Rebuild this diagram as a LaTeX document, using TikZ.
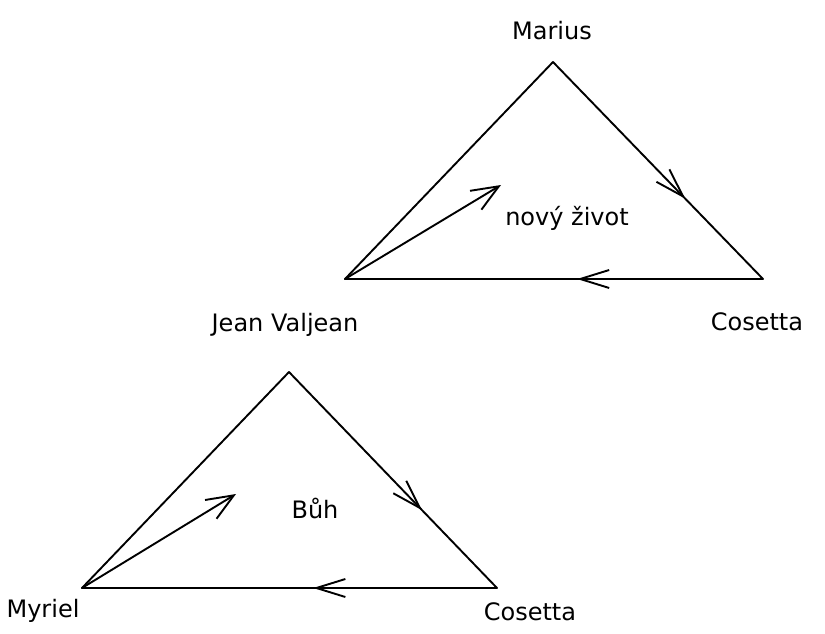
\documentclass[tikz,border=0pt]{standalone}
\usepackage{fontspec}
\setmainfont{DejaVu Sans}
\usetikzlibrary{arrows.meta,decorations.markings}
\tikzset{
  lbl/.style={font=\fontsize{24}{26}\selectfont, inner sep=0pt},
  edge/.style={line width=1.9pt, line cap=round},
  barb/.style={-{Straight Barb[length=27pt,width=22pt,line width=1.9pt]}},
  midarrow/.style={postaction={decorate}, decoration={markings,
     mark=at position #1 with {\arrow{Straight Barb[length=29pt,width=18pt,line width=1.9pt]}}}}
}
\begin{document}
\begin{tikzpicture}[x=1pt,y=-1pt]
\useasboundingbox (0,0) rectangle (825,634);
% triangle 1
\coordinate (A1) at (553,62);
\coordinate (L1) at (345,279);
\coordinate (R1) at (763,279);
\coordinate (T1) at (501,185);
\node[lbl] (marius) at (552,31) {Marius};
\node[lbl] (zivot) at (567,218) {nový život};
\node[lbl] (cos1) at (757,322) {Cosetta};
\node[lbl] (jean) at (285,325) {Jean Valjean};
\draw[edge] (L1) -- (A1);
\draw[edge, midarrow=0.63] (A1) -- (R1);
\draw[edge, midarrow=0.445] (R1) -- (L1);
\draw[edge, barb] (L1) -- (T1);
% triangle 2
\coordinate (A2) at (289,372);
\coordinate (L2) at (82,588);
\coordinate (R2) at (497,588);
\coordinate (T2) at (236,494);
\node[lbl] (buh) at (315,508) {Bůh};
\node[lbl] (myriel) at (43,611) {Myriel};
\node[lbl] (cos2) at (530,612) {Cosetta};
\draw[edge] (L2) -- (A2);
\draw[edge, midarrow=0.64] (A2) -- (R2);
\draw[edge, midarrow=0.443] (R2) -- (L2);
\draw[edge, barb] (L2) -- (T2);
\end{tikzpicture}
\end{document}
